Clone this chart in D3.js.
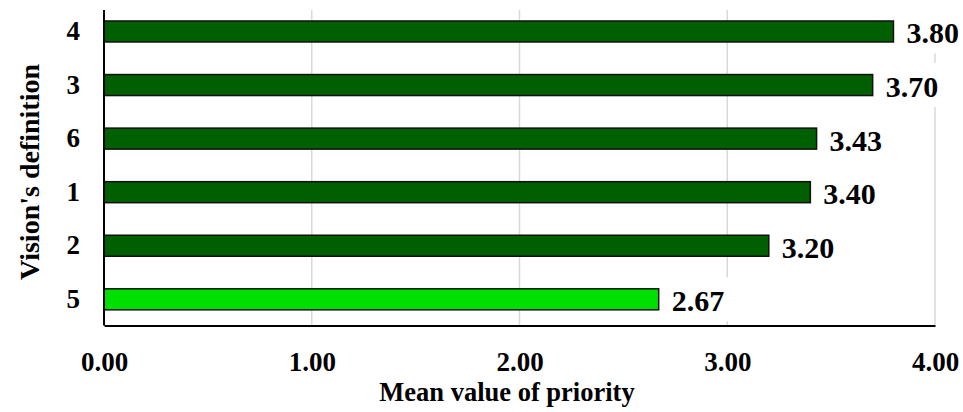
<!DOCTYPE html>
<html>
<head>
<meta charset="utf-8">
<script src="https://cdn.jsdelivr.net/npm/d3@7"></script>
<style>
  body { margin: 0; background: #fff; }
  svg { display: block; font-family: "Liberation Serif", "Times New Roman", serif; font-weight: bold; }
</style>
</head>
<body>
<svg id="chart" width="963" height="412"></svg>
<script>
const categories = ["4", "3", "6", "1", "2", "5"];
const values = [3.80, 3.70, 3.43, 3.40, 3.20, 2.67];
const barColors = ["#005f00", "#005f00", "#005f00", "#005f00", "#005f00", "#00e000"];
const xTicks = [0, 1, 2, 3, 4];

const data = categories.map((c, i) => ({ cat: c, value: values[i], color: barColors[i] }));

const svg = d3.select("#chart");
const plotLeft = 104, plotRight = 935, plotTop = 10, plotBottom = 325.5;
const serif = "Liberation Serif, Times New Roman, serif";

const x = d3.scaleLinear().domain([0, 4]).range([plotLeft, plotRight]);
const y = d3.scaleBand()
  .domain(categories)
  .range([4.7, 326.1])
  .paddingInner(0.608)
  .paddingOuter(0.304);

// gridlines
svg.append("g")
  .selectAll("line")
  .data(xTicks.slice(1))
  .join("line")
  .attr("x1", d => x(d)).attr("x2", d => x(d))
  .attr("y1", plotTop).attr("y2", plotBottom)
  .attr("stroke", "#d9d9d9")
  .attr("stroke-width", 1.5);

// bars
svg.append("g")
  .selectAll("rect")
  .data(data)
  .join("rect")
  .attr("x", x(0))
  .attr("y", d => y(d.cat))
  .attr("width", d => x(d.value) - x(0))
  .attr("height", y.bandwidth())
  .attr("fill", d => d.color)
  .attr("stroke", "#111")
  .attr("stroke-width", 1.5);

// value labels with white boxes
const labels = svg.append("g")
  .selectAll("g")
  .data(data)
  .join("g")
  .attr("transform", d => `translate(${x(d.value) + 13},${y(d.cat) + y.bandwidth() / 2})`);

labels.append("rect")
  .attr("x", -4).attr("y", -22)
  .attr("width", 66).attr("height", 44)
  .attr("fill", "#fff");

labels.append("text")
  .attr("y", 12)
  .attr("font-family", serif)
  .attr("font-weight", "bold")
  .attr("font-size", 30)
  .attr("fill", "#000")
  .text(d => d.value.toFixed(2));

// axes
const xAxis = svg.append("g")
  .attr("transform", `translate(0,${plotBottom})`)
  .call(d3.axisBottom(x).tickValues(xTicks).tickFormat(d3.format(".2f")).tickSize(0).tickPadding(26));
xAxis.select(".domain").attr("stroke", "#000").attr("stroke-width", 2);
xAxis.selectAll("text")
  .attr("font-family", serif)
  .attr("font-weight", "bold")
  .attr("font-size", 27)
  .attr("fill", "#000");

const yAxis = svg.append("g")
  .attr("transform", `translate(${plotLeft},0)`)
  .call(d3.axisLeft(y).tickSize(0).tickPadding(24));
yAxis.select(".domain").attr("d", `M0,${plotTop}V${plotBottom}`).attr("stroke", "#000").attr("stroke-width", 2);
yAxis.selectAll("text")
  .attr("font-family", serif)
  .attr("font-weight", "bold")
  .attr("font-size", 27)
  .attr("fill", "#000");

// axis titles
svg.append("text")
  .attr("x", 507).attr("y", 401)
  .attr("text-anchor", "middle")
  .attr("font-family", serif)
  .attr("font-weight", "bold")
  .attr("font-size", 26.5)
  .text("Mean value of priority");

svg.append("text")
  .attr("transform", "translate(39,172) rotate(-90)")
  .attr("text-anchor", "middle")
  .attr("font-family", serif)
  .attr("font-weight", "bold")
  .attr("font-size", 28)
  .text("Vision's definition");
</script>
</body>
</html>
